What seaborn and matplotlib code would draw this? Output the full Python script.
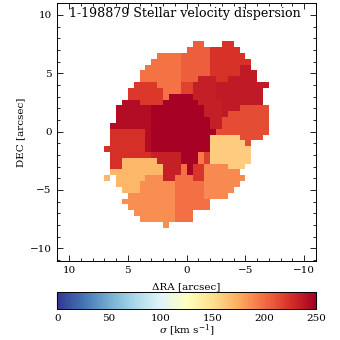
"""
MaNGA-style stellar velocity dispersion map (Voronoi binned spaxels).
"""

import numpy as np
import pandas as pd
import matplotlib
matplotlib.use("Agg")
import matplotlib.pyplot as plt
import seaborn as sns

sns.set_theme(style="ticks")
plt.rcParams["font.family"] = ["DejaVu Serif"]
plt.rcParams["mathtext.fontset"] = "dejavuserif"

# ── Data ───────────────────────────────────────────────────────────────────────

TITLE = "1-198879 Stellar velocity dispersion"
SPAXEL = 0.5        # arcsec per spaxel
RA_FIRST = 7.25     # RA of first column centre
DEC_FIRST = 7.5     # DEC of first row centre
N_COLS = 30

# sigma (km/s) of each Voronoi bin
bin_sigma = {
    "A": 198, "B": 206, "C": 224, "D": 236, "E": 221,
    "F": 243, "G": 249, "H": 234, "I": 213, "J": 160,
    "K": 225, "L": 170, "M": 187, "N": 199, "P": 189,
    "Q": 233, "R": 223, "S": 195, "T": 217, "U": 218,
}

# bin id of every spaxel, top row first, '.' = no data
bin_map = [
    "................BB...CC",
    "...............BBBBCCCCC",
    "..........AAAABBBBBCCCCCC",
    ".........AAAAABBBBBCCCCCCC",
    "........AAAAAABBBBBCCCCCDD",
    ".......AAAAAAABBBBBCCCCCDDD",
    ".......AAAAAAABBBHHHCCDDDDD",
    "......EEEEAAAATTHHHHDDDDDDDDD",
    ".....EEEEEEAAATTHHHHDDDDDDDD",
    ".....EEEEEEAGGGGHHHHDDDDDDDD",
    "....FFFEEEEGGGGGGHHHHDDDDDDD",
    "...FFFFFFGGGGGGGGGHHHDDDIIIII",
    "...FFFFFFGGGGGGGGGHHHDIIIIIII",
    "...FFFFFFGGGGGGGGGGHHIIIIIIII",
    "..FFFFFFFGGGGGGGGGGHHIIIIIIII",
    "..KKKKKKFGGGGGGGGGGGIIIIIIIII",
    "..KKKKKKFGGGGGGGGGGJJJJJIIII",
    "..KKKKKKFGGGGGGGGGGJJJJJJI",
    ".KKKKKKKFGGGGGGGGGGJJJJJJJ",
    "..KKKKKKKQQQQQGGGSUJJJJJJJ",
    "..KKLLLLLLQQQQGGGSUJJJJJJJ",
    "..KKLLLLLLLQQQNGRRPPPPJJJ",
    "..LLLLLLLLLQQQNGRRPPPPPP",
    ".L.LLLLLMMMQQNNNRRPPPPPPP",
    "...LLLLMMMMMMNNNNNPPPPPP",
    "....LLLMMMMMMNNNNNPPPPP",
    ".....MMMMMMMMNNNNNPPPP",
    "....MMMMMMMMMNNNNNN",
    ".....MMMMMMMMNNNNNN",
    "......MMMMMMMNNN",
    ".......MMMMMMNNN",
    "...........M",
]

x_range = [11.0, -10.65]
y_range = [-11.07, 10.57]
xticks = [10, 5, 0, -5, -10]
yticks = [-10, -5, 0, 5, 10]
minor_ticks = list(range(-11, 12))
cbar_ticks = [0, 50, 100, 150, 200, 250]

# ── Helpers ────────────────────────────────────────────────────────────────────

def to_col(ra):
    return (RA_FIRST + SPAXEL / 2 - ra) / SPAXEL

def to_row(dec):
    return (DEC_FIRST + SPAXEL / 2 - dec) / SPAXEL

def fmt(v):
    return str(v).replace("-", "\u2212")

# ── Build table ────────────────────────────────────────────────────────────────

grid = [[bin_sigma.get(ch, np.nan) for ch in row.ljust(N_COLS, ".")] for row in bin_map]
ra = [RA_FIRST - SPAXEL * i for i in range(N_COLS)]
dec = [DEC_FIRST - SPAXEL * i for i in range(len(bin_map))]
df = pd.DataFrame(grid, index=dec, columns=ra)

# ── Plot ───────────────────────────────────────────────────────────────────────

W = H = 340
fig = plt.figure(figsize=(3.4, 3.4), dpi=100)
ax = fig.add_axes([57.3 / W, 1 - 260.7 / H, 258.7 / W, 257.4 / H])
cax = fig.add_axes([57.3 / W, 1 - 309.3 / H, 258.7 / W, 17 / H])

cmap = sns.color_palette("RdYlBu_r", as_cmap=True)
sns.heatmap(df, ax=ax, cmap=cmap, vmin=0, vmax=250, cbar_ax=cax,
            cbar_kws={"orientation": "horizontal"},
            xticklabels=False, yticklabels=False)

ax.set_xlim(to_col(x_range[0]), to_col(x_range[1]))
ax.set_ylim(to_row(y_range[0]), to_row(y_range[1]))

ax.set_xticks([to_col(v) for v in xticks])
ax.set_xticklabels([fmt(v) for v in xticks])
ax.set_yticks([to_row(v) for v in yticks])
ax.set_yticklabels([fmt(v) for v in yticks])
ax.set_xticks([to_col(v) for v in minor_ticks], minor=True)
ax.set_yticks([to_row(v) for v in minor_ticks], minor=True)

for sp in ax.spines.values():
    sp.set_visible(True)
    sp.set_color("black")
    sp.set_linewidth(0.7)

ax.tick_params(which="both", direction="in", top=True, right=True,
               color="black", width=0.6, labelsize=7.5, labelcolor="black")
ax.tick_params(which="major", length=4.5, pad=4)
ax.tick_params(which="minor", length=2.2)

ax.set_xlabel("\u0394RA [arcsec]", fontsize=7.5, color="black")
ax.set_ylabel("DEC [arcsec]", fontsize=7.5, color="black")
ax.xaxis.set_label_coords(0.5, -0.083)
ax.yaxis.set_label_coords(-0.123, 0.5)

ax.text(0.045, 0.986, TITLE, transform=ax.transAxes, ha="left", va="top",
        fontsize=9.1, color="black")

# colorbar
cbar = ax.collections[0].colorbar
cbar.set_ticks(cbar_ticks)
cbar.set_ticklabels([fmt(v) for v in cbar_ticks])
cbar.outline.set_edgecolor("black")
cbar.outline.set_linewidth(0.7)
cax.tick_params(direction="in", length=17 * 72 / 100, width=0.8, color="black",
                labelsize=7.5, pad=3.5, labelcolor="black")
cax.set_xlabel(r"$\sigma$ [km s$^{-1}$]", fontsize=7.5, labelpad=0, color="black")

fig.savefig("out.png", dpi=100)
plt.close(fig)
